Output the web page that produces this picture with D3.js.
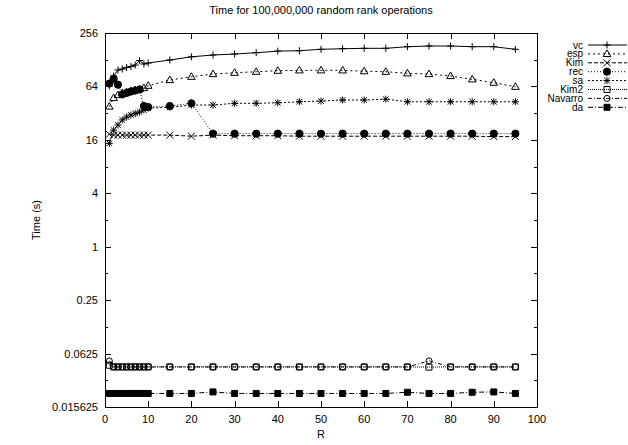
<!DOCTYPE html>
<html>
<head>
<meta charset="utf-8">
<script src="https://cdn.jsdelivr.net/npm/d3@7"></script>
<style>
  body { margin: 0; background: #fff; }
  svg { font-family: "Liberation Sans", Arial, Helvetica, sans-serif; }
</style>
</head>
<body>
<svg id="chart" width="628" height="445"></svg>
<script>
// ---- data ----
const R = [1, 2, 3, 4, 5, 6, 7, 8, 9, 10, 15, 20, 25, 30, 35, 40, 45, 50, 55, 60, 65, 70, 75, 80, 85, 90, 95];

const vc = [64.7, 83.8, 98, 100.5, 104.6, 107.3, 111.5, 125.3, 114.5, 117.5,
  127, 138, 144.6, 148.4, 153.5, 160, 161.7, 167.7, 170.3, 172, 172, 179.4, 182.6, 182.6, 179.4, 179.4, 167.7];
const esp = [38, 47.4, 51.2, 53.9, 55.3, 56.8, 58.3, 59.8, 61.4, 65.2,
  75.6, 82.3, 88.3, 91.3, 93.7, 96.2, 97.2, 97.2, 97.2, 95, 93.7, 90, 88.3, 83.9, 77, 70.5, 63.5];
const kim = [18.5, 18.1, 18.1, 18.1, 18.1, 18.1, 18.1, 18.1, 18.1, 18.1,
  18.1, 17.6, 18.1, 17.8, 17.8, 17.8, 17.6, 17.6, 17.6, 17.6, 17.6, 17.6, 17.6, 17.6, 17.6, 17.4, 17.4];
const rec = [69, 78, 67, 52, 54, 56, 57.5, 59, 38.5, 37.5,
  38.5, 41.3, 18.8, 18.8, 18.8, 18.8, 18.8, 18.8, 18.8, 18.8, 18.8, 18.8, 18.8, 18.8, 18.8, 18.8, 18.8];
const sa = [14.6, 20.6, 23.5, 26.8, 28.9, 30.5, 31.7, 32.9, 34.7, 36.5,
  37.2, 39.5, 39.5, 41.3, 41.3, 41.9, 43, 43.8, 45, 45, 46, 43, 43, 43, 43, 43, 43];
const kim2 = [0.0462, 0.0442, 0.0442, 0.0442, 0.0442, 0.0442, 0.0442, 0.0442, 0.0442, 0.0442,
  0.0442, 0.0442, 0.0442, 0.0442, 0.0442, 0.0442, 0.0442, 0.0442, 0.0442, 0.0442, 0.0442, 0.0442, 0.0440, 0.0442, 0.0442, 0.0442, 0.0442];
const navarro = [0.0517, 0.0442, 0.0442, 0.0442, 0.0442, 0.0442, 0.0442, 0.0442, 0.0442, 0.0442,
  0.0442, 0.0442, 0.0442, 0.0442, 0.0442, 0.0442, 0.0442, 0.0442, 0.0442, 0.0442, 0.0442, 0.0442, 0.0517, 0.0442, 0.0442, 0.0442, 0.0442];
const da = [0.0222, 0.0222, 0.0222, 0.0222, 0.0222, 0.0222, 0.0222, 0.0222, 0.0222, 0.0222,
  0.0222, 0.0222, 0.0231, 0.0222, 0.0222, 0.0222, 0.0222, 0.0222, 0.0222, 0.0222, 0.0222, 0.0229, 0.0222, 0.0222, 0.0229, 0.0231, 0.0222];

const seriesNames = ['vc', 'esp', 'Kim', 'rec', 'sa', 'Kim2', 'Navarro', 'da'];
const seriesValues = [vc, esp, kim, rec, sa, kim2, navarro, da];

const xTicks = [0, 10, 20, 30, 40, 50, 60, 70, 80, 90, 100];
const yTicks = [0.015625, 0.0625, 0.25, 1, 4, 16, 64, 256];
const yTickLabels = ['0.015625', '0.0625', '0.25', '1', '4', '16', '64', '256'];
const yMinorTicks = [0.03125, 0.125, 0.5, 2, 8, 32, 128];

// ---- styles (gnuplot-like) ----
const dashes = ['none', '2,3', '4,2', '1,2', '2,2', '1,1', '4,2,1,2', '5,2,1,2'];
const markers = ['plus', 'triangle', 'cross', 'dot', 'star', 'box', 'circle', 'fbox'];

// ---- layout ----
const M = { left: 105, right: 537, top: 33, bottom: 407 };

const svg = d3.select('#chart');
const x = d3.scaleLinear().domain([0, 100]).range([M.left, M.right]);
const y = d3.scaleLog().base(2).domain([0.015625, 256]).range([M.bottom, M.top]);

function markerPath(type, cx, cy) {
  const s = 3.5;
  switch (type) {
    case 'plus':
      return `M${cx - s},${cy}H${cx + s}M${cx},${cy - s}V${cy + s}`;
    case 'cross':
      return `M${cx - s},${cy - s}L${cx + s},${cy + s}M${cx - s},${cy + s}L${cx + s},${cy - s}`;
    case 'star':
      return `M${cx - s},${cy}H${cx + s}M${cx},${cy - s}V${cy + s}` +
             `M${cx - s * 0.8},${cy - s * 0.8}L${cx + s * 0.8},${cy + s * 0.8}M${cx - s * 0.8},${cy + s * 0.8}L${cx + s * 0.8},${cy - s * 0.8}`;
    case 'box':
    case 'fbox':
      return `M${cx - 3},${cy - 3}h6v6h-6Z`;
    case 'triangle':
      return `M${cx},${cy - 4}L${cx + 3.8},${cy + 2.6}L${cx - 3.8},${cy + 2.6}Z`;
    default:
      return null;
  }
}

function drawMarker(g, type, cx, cy) {
  if (type === 'dot' || type === 'circle') {
    g.append('circle').attr('cx', cx).attr('cy', cy)
      .attr('r', type === 'dot' ? 3.6 : 3)
      .attr('fill', type === 'dot' ? '#000' : 'none')
      .attr('stroke', '#000').attr('stroke-width', 1);
  } else {
    g.append('path').attr('d', markerPath(type, cx, cy))
      .attr('fill', type === 'fbox' ? '#000' : 'none')
      .attr('stroke', '#000').attr('stroke-width', 1);
  }
}

// ---- frame and ticks ----
const axes = svg.append('g').attr('stroke', '#000').attr('stroke-width', 1).attr('shape-rendering', 'crispEdges');
axes.append('rect')
  .attr('x', M.left).attr('y', M.top)
  .attr('width', M.right - M.left).attr('height', M.bottom - M.top)
  .attr('fill', 'none');

xTicks.forEach(t => {
  const px = Math.round(x(t)) + 0.5;
  axes.append('line').attr('x1', px).attr('x2', px).attr('y1', M.bottom).attr('y2', M.bottom - 6);
  axes.append('line').attr('x1', px).attr('x2', px).attr('y1', M.top).attr('y2', M.top + 6);
});
yTicks.forEach(t => {
  const py = Math.round(y(t)) + 0.5;
  axes.append('line').attr('x1', M.left).attr('x2', M.left + 6).attr('y1', py).attr('y2', py);
  axes.append('line').attr('x1', M.right).attr('x2', M.right - 6).attr('y1', py).attr('y2', py);
});
yMinorTicks.forEach(t => {
  const py = Math.round(y(t)) + 0.5;
  axes.append('line').attr('x1', M.left).attr('x2', M.left + 3).attr('y1', py).attr('y2', py);
  axes.append('line').attr('x1', M.right).attr('x2', M.right - 3).attr('y1', py).attr('y2', py);
});

const labels = svg.append('g').attr('font-size', 11).attr('fill', '#000');
xTicks.forEach(t => {
  labels.append('text').attr('x', x(t)).attr('y', M.bottom + 16)
    .attr('text-anchor', 'middle').text(t);
});
yTicks.forEach((t, i) => {
  labels.append('text').attr('x', M.left - 7).attr('y', y(t) + 4)
    .attr('text-anchor', 'end').text(yTickLabels[i]);
});

labels.append('text').attr('x', (M.left + M.right) / 2).attr('y', 14)
  .attr('text-anchor', 'middle').text('Time for 100,000,000 random rank operations');
labels.append('text').attr('x', (M.left + M.right) / 2).attr('y', 438)
  .attr('text-anchor', 'middle').text('R');
labels.append('text')
  .attr('transform', `translate(40,${(M.top + M.bottom) / 2}) rotate(-90)`)
  .attr('text-anchor', 'middle').text('Time (s)');

// ---- series ----
const line = d3.line().x(d => x(d[0])).y(d => y(d[1]));
const plot = svg.append('g');

seriesValues.forEach((vals, i) => {
  const pts = R.map((r, j) => [r, vals[j]]);
  const g = plot.append('g');
  g.append('path').attr('d', line(pts))
    .attr('fill', 'none').attr('stroke', '#000').attr('stroke-width', 1)
    .attr('stroke-dasharray', dashes[i]);
  pts.forEach(p => drawMarker(g, markers[i], x(p[0]), y(p[1])));
});

// ---- legend ----
const legend = svg.append('g');
seriesNames.forEach((name, i) => {
  const ly = 45 + i * 8.9;
  legend.append('text').attr('x', 583).attr('y', ly + 3.5)
    .attr('text-anchor', 'end').attr('font-size', 10).text(name);
  legend.append('line').attr('x1', 588).attr('x2', 627).attr('y1', ly).attr('y2', ly)
    .attr('stroke', '#000').attr('stroke-width', 1).attr('stroke-dasharray', dashes[i]);
  drawMarker(legend, markers[i], 607, ly);
});
</script>
</body>
</html>
